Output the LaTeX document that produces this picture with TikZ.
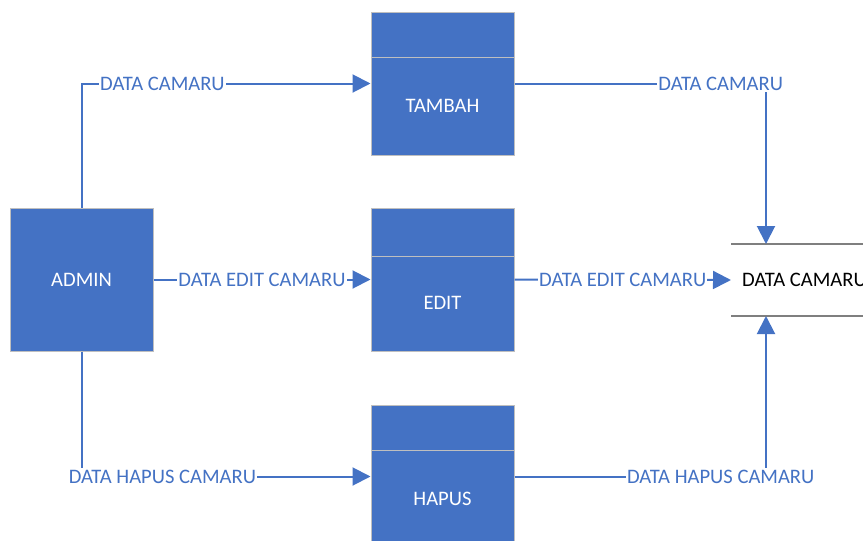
\documentclass[tikz,border=0pt]{standalone}
\usepackage{fontspec}
\setmainfont{Carlito}
\usetikzlibrary{arrows.meta}
\definecolor{mblue}{HTML}{4472C4}
\definecolor{mborder}{HTML}{BFBFBF}
\definecolor{mgray}{HTML}{7F7F7F}
\tikzset{
  procbox/.style={draw=mborder, line width=1pt, fill=mblue, minimum width=143pt, minimum height=143pt, inner sep=0pt},
  boxtext/.style={text=white, font=\fontsize{20.6}{24}\selectfont, inner sep=0pt},
  flow/.style={draw=mblue, line width=2pt, -{Triangle[length=18pt,width=18pt]}},
  flowlabel/.style={fill=white, text=mblue, font=\fontsize{20.6}{24}\selectfont, inner xsep=1pt, inner ysep=2pt},
  storeline/.style={draw=mgray, line width=2pt}
}
\begin{document}
\begin{tikzpicture}[x=1pt,y=-1pt]
\useasboundingbox (0,0) rectangle (863,541);
\clip (0,0) rectangle (863,541);
% processes
\node[procbox] (admin) at (81.5,279.5) {};
\node[boxtext] (adminT) at (admin.center) {ADMIN};
\node[procbox] (tambah) at (442.5,83.5) {};
\draw[mborder, line width=1pt] (371,57) -- (514,57);
\node[boxtext] (tambahT) at (442.5,106) {TAMBAH};
\node[procbox] (edit) at (442.5,279.5) {};
\draw[mborder, line width=1pt] (371,256) -- (514,256);
\node[boxtext] (editT) at (442.5,303) {EDIT};
\node[procbox] (hapus) at (442.5,476.5) {};
\draw[mborder, line width=1pt] (371,450) -- (514,450);
\node[boxtext] (hapusT) at (442.5,499) {HAPUS};
% data store
\coordinate (storeW) at (731,280);
\coordinate (storeT) at (766,244);
\coordinate (storeB) at (766,316);
\draw[storeline] (731,244) -- (870,244);
\draw[storeline] (731,316) -- (870,316);
\node[anchor=west, font=\fontsize{20.6}{24}\selectfont, inner sep=0pt] (store) at (742,280) {DATA CAMARU};
% flows
\draw[flow] (admin.north) |- (tambah.west) node[flowlabel, pos=0.64] {DATA CAMARU};
\draw[flow] (admin.east) -- (edit.west) node[flowlabel, pos=0.5] {DATA EDIT CAMARU};
\draw[flow] (admin.south) |- (hapus.west) node[flowlabel, pos=0.64] {DATA HAPUS CAMARU};
\draw[flow] (tambah.east) -| (storeT) node[flowlabel, pos=0.41] {DATA CAMARU};
\draw[flow] (edit.east) -- (storeW) node[flowlabel, pos=0.5] {DATA EDIT CAMARU};
\draw[flow] (hapus.east) -| (storeB) node[flowlabel, pos=0.41] {DATA HAPUS CAMARU};
\end{tikzpicture}
\end{document}
